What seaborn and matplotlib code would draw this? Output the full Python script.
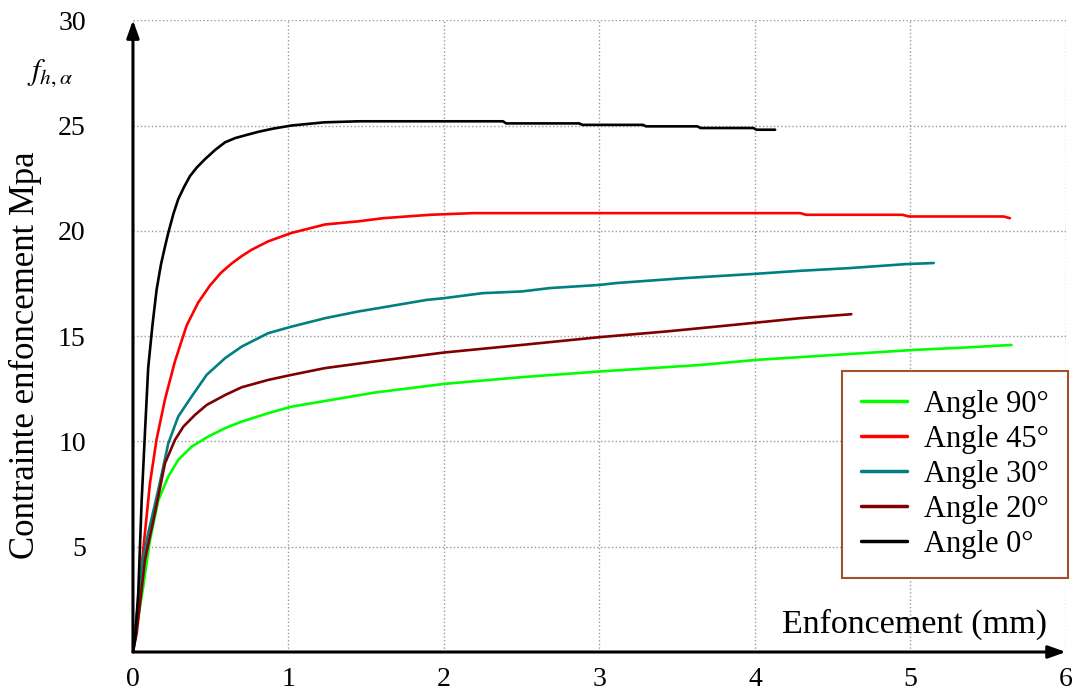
import numpy as np
import pandas as pd
import matplotlib
matplotlib.use("Agg")
import matplotlib.pyplot as plt
import seaborn as sns

sns.set_style("white")
plt.rcParams['font.family'] = ['Liberation Serif', 'DejaVu Serif']
plt.rcParams['mathtext.fontset'] = 'stix'
plt.rcParams['text.color'] = 'black'
plt.rcParams['axes.labelcolor'] = 'black'
plt.rcParams['xtick.color'] = 'black'
plt.rcParams['ytick.color'] = 'black'

# Angle 0 deg
x_0 = [0, 0.013, 0.034, 0.056, 0.077, 0.098, 0.125, 0.152, 0.18, 0.206, 0.227, 0.26, 0.291,
       0.33, 0.367, 0.41, 0.463, 0.53, 0.592, 0.656, 0.73, 0.806, 0.9, 1.02, 1.23, 1.45,
       2.38, 2.4, 2.87, 2.89, 3.28, 3.3, 3.63, 3.65, 3.99, 4.01, 4.13]
y_0 = [0, 0.6, 2.8, 7.2, 10.4, 13.5, 15.5, 17.2, 18.4, 19.25, 19.9, 20.8, 21.5,
       22.1, 22.6, 23.0, 23.4, 23.85, 24.2, 24.4, 24.55, 24.7, 24.85, 25.0, 25.15, 25.2,
       25.2, 25.1, 25.1, 25.03, 25.03, 24.96, 24.96, 24.88, 24.88, 24.8, 24.8]

# Angle 45 deg
x_45 = [0, 0.013, 0.045, 0.077, 0.109, 0.152, 0.206, 0.27, 0.345, 0.42, 0.495, 0.565, 0.635,
        0.7, 0.763, 0.87, 1.02, 1.235, 1.45, 1.61, 1.91, 2.19, 4.29, 4.33, 4.95, 4.99, 5.6, 5.64]
y_45 = [0, 0.6, 3.3, 5.65, 8.0, 10.1, 12.0, 13.8, 15.5, 16.6, 17.4, 18.0, 18.45,
        18.8, 19.1, 19.5, 19.9, 20.3, 20.45, 20.6, 20.76, 20.84, 20.84, 20.76, 20.76, 20.68, 20.68, 20.6]

# Angle 30 deg
x_30 = [0, 0.013, 0.056, 0.098, 0.163, 0.227, 0.291, 0.377, 0.474, 0.592, 0.699, 0.87, 1.02,
        1.235, 1.45, 1.556, 1.89, 2.0, 2.25, 2.5, 2.68, 3.0, 3.11, 3.54, 4.01, 4.29, 4.61, 4.975, 5.15]
y_30 = [0, 0.9, 4.05, 5.64, 7.7, 9.9, 11.18, 12.13, 13.16, 13.95, 14.5, 15.14, 15.45,
        15.85, 16.17, 16.3, 16.72, 16.8, 17.04, 17.12, 17.28, 17.43, 17.52, 17.75, 17.96, 18.1, 18.23, 18.42, 18.47]

# Angle 20 deg
x_20 = [0, 0.024, 0.077, 0.141, 0.206, 0.27, 0.324, 0.399, 0.474, 0.592, 0.699, 0.87, 1.02,
        1.235, 1.556, 2.0, 2.5, 3.0, 3.43, 3.86, 4.29, 4.62]
y_20 = [0, 0.9, 4.37, 6.59, 8.96, 10.07, 10.7, 11.26, 11.73, 12.2, 12.57, 12.92, 13.16,
        13.48, 13.8, 14.22, 14.58, 14.95, 15.22, 15.53, 15.85, 16.04]

# Angle 90 deg
x_90 = [0, 0.024, 0.066, 0.109, 0.163, 0.227, 0.291, 0.377, 0.484, 0.592, 0.699, 0.87, 1.02,
        1.235, 1.556, 2.0, 2.5, 3.0, 3.65, 4.01, 4.5, 5.04, 5.36, 5.65]
y_90 = [0, 1.2, 3.1, 5.3, 7.2, 8.33, 9.12, 9.75, 10.23, 10.63, 10.94, 11.34, 11.65,
        11.92, 12.32, 12.73, 13.05, 13.32, 13.63, 13.87, 14.1, 14.35, 14.46, 14.58]

labels = ['Angle 90°', 'Angle 45°', 'Angle 30°', 'Angle 20°', 'Angle 0°']
colors = ['#00ff00', '#ff0000', '#008080', '#800000', '#000000']
series = [(x_90, y_90), (x_45, y_45), (x_30, y_30), (x_20, y_20), (x_0, y_0)]

frames = []
for lab, (xs, ys) in zip(labels, series):
    frames.append(pd.DataFrame({'x': xs, 'y': ys, 'angle': lab}))
df = pd.concat(frames, ignore_index=True)

fig = plt.figure(figsize=(10.81, 6.92), dpi=100)
ax = fig.add_axes([0.123, 0.0578, 0.863, 0.913])

sns.lineplot(data=df, x='x', y='y', hue='angle', hue_order=labels,
             palette=dict(zip(labels, colors)), estimator=None, sort=False,
             lw=1.9, ax=ax)

ax.set_xlim(0, 6)
ax.set_ylim(0, 30)
ax.set_xticks(range(0, 7))
ax.set_yticks([5, 10, 15, 20, 25, 30])
ax.grid(True, linestyle=':', color='#9a9a9a', lw=1)
for s in ax.spines.values():
    s.set_visible(False)
ax.tick_params(axis='y', length=0, pad=34, labelsize=20)
ax.tick_params(axis='x', length=0, pad=11, labelsize=20)

# axis arrows
arrow = dict(arrowstyle='-|>,head_length=0.7,head_width=0.25', color='black',
             lw=2.2, mutation_scale=15, shrinkA=0, shrinkB=0)
ax.annotate('', xy=(0, 30), xytext=(0, 0), arrowprops=arrow, annotation_clip=False)
ax.annotate('', xy=(6, 0), xytext=(0, 0), arrowprops=arrow, annotation_clip=False)

ax.set_ylabel('Contrainte enfoncement Mpa', fontsize=25)
ax.yaxis.set_label_coords(-0.0975, 0.47)
ax.set_xlabel('Enfoncement (mm)', fontsize=24.5, ha='right', va='baseline')
ax.xaxis.set_label_coords(0.98, 0.03)
fig.text(27 / 1081, 1 - 80 / 692, r'$f_{h,\alpha}$', fontsize=22, va='baseline')

handles, labs = ax.get_legend_handles_labels()
leg = ax.legend(handles, labs, loc='lower right', bbox_to_anchor=(1.002, 0.117),
                fontsize=22, frameon=True, fancybox=False, framealpha=1,
                handlelength=1.5, handletextpad=0.55, labelspacing=0.2,
                borderpad=0.62, borderaxespad=0)
leg.get_frame().set_edgecolor('#a0522d')
leg.get_frame().set_linewidth(1.5)
for line in leg.get_lines():
    line.set_linewidth(2.5)

fig.savefig('out.png', dpi=100)
